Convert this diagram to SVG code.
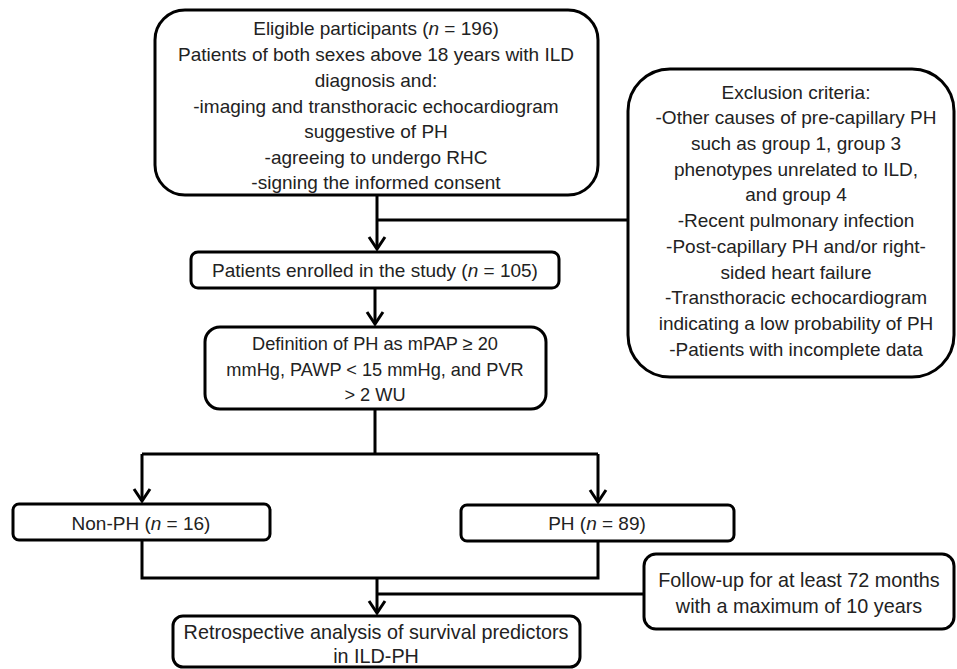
<svg xmlns="http://www.w3.org/2000/svg" width="957" height="669" viewBox="0 0 957 669">
<defs>
<marker id="arr" markerUnits="userSpaceOnUse" markerWidth="30" markerHeight="30" refX="0" refY="0" orient="auto" overflow="visible">
<path d="M-12,-8 L0,0 L-12,8" fill="none" stroke="#000" stroke-width="3" stroke-linejoin="miter"/>
</marker>
<style>
.box{fill:#fff;stroke:#000;stroke-width:3}
.ln{fill:none;stroke:#000;stroke-width:3}
text{font-family:"Liberation Sans",Arial,sans-serif;font-size:19px;fill:#222;text-anchor:middle}
.it{font-style:italic}
.wide{font-size:19.8px}
.narrow{font-size:18.2px}
</style>
</defs>
<rect width="957" height="669" fill="#fff"/>
<g id="connectors">
<path class="ln" d="M377,195 V249" marker-end="url(#arr)"/>
<path class="ln" d="M377,220 H628"/>
<path class="ln" d="M375,288 V324" marker-end="url(#arr)"/>
<path class="ln" d="M375,409 V454 M142,454 H598"/>
<path class="ln" d="M142,454 V501" marker-end="url(#arr)"/>
<path class="ln" d="M598,454 V502" marker-end="url(#arr)"/>
<path class="ln" d="M142,540 V578 H598 V541"/>
<path class="ln" d="M377,578 V613" marker-end="url(#arr)"/>
<path class="ln" d="M377,594 H644"/>
</g>
<g id="eligible">
<rect class="box" x="155" y="10" width="443" height="185" rx="30"/>
<text x="376" y="35">Eligible participants (<tspan class="it">n</tspan> = 196)</text>
<text x="376" y="61">Patients of both sexes above 18 years with ILD</text>
<text x="376" y="87">diagnosis and:</text>
<text x="376" y="113">-imaging and transthoracic echocardiogram</text>
<text x="376" y="138">suggestive of PH</text>
<text x="376" y="164">-agreeing to undergo RHC</text>
<text x="376" y="189">-signing the informed consent</text>
</g>
<g id="exclusion">
<rect class="box" x="628" y="69" width="326" height="308" rx="42"/>
<text x="796" y="99">Exclusion criteria:</text>
<text x="796" y="124">-Other causes of pre-capillary PH</text>
<text x="796" y="150">such as group 1, group 3</text>
<text x="796" y="176">phenotypes unrelated to ILD,</text>
<text x="796" y="201">and group 4</text>
<text x="796" y="227">-Recent pulmonary infection</text>
<text x="796" y="253">-Post-capillary PH and/or right-</text>
<text x="796" y="279">sided heart failure</text>
<text x="796" y="304">-Transthoracic echocardiogram</text>
<text x="796" y="330">indicating a low probability of PH</text>
<text x="796" y="356">-Patients with incomplete data</text>
</g>
<g id="enrolled">
<rect class="box" x="191" y="252" width="368" height="36" rx="7"/>
<text x="375" y="277">Patients enrolled in the study (<tspan class="it">n</tspan> = 105)</text>
</g>
<g id="definition">
<rect class="box" x="205" y="327" width="341" height="82" rx="15"/>
<text class="narrow" x="375" y="350">Definition of PH as mPAP ≥ 20</text>
<text class="narrow" x="375" y="376">mmHg, PAWP &lt; 15 mmHg, and PVR</text>
<text class="narrow" x="375" y="401">&gt; 2 WU</text>
</g>
<g id="nonph">
<rect class="box" x="13" y="504" width="257" height="36" rx="6"/>
<text x="141" y="530">Non-PH (<tspan class="it">n</tspan> = 16)</text>
</g>
<g id="ph">
<rect class="box" x="461" y="505" width="273" height="36" rx="6"/>
<text x="597" y="530">PH (<tspan class="it">n</tspan> = 89)</text>
</g>
<g id="followup">
<rect class="box" x="644" y="554" width="310" height="75" rx="12"/>
<text class="wide" x="799" y="587">Follow-up for at least 72 months</text>
<text class="wide" x="799" y="613">with a maximum of 10 years</text>
</g>
<g id="retro">
<rect class="box" x="173" y="616" width="407" height="51" rx="10"/>
<text class="wide" x="376" y="639">Retrospective analysis of survival predictors</text>
<text class="wide" x="376" y="663">in ILD-PH</text>
</g>
</svg>
